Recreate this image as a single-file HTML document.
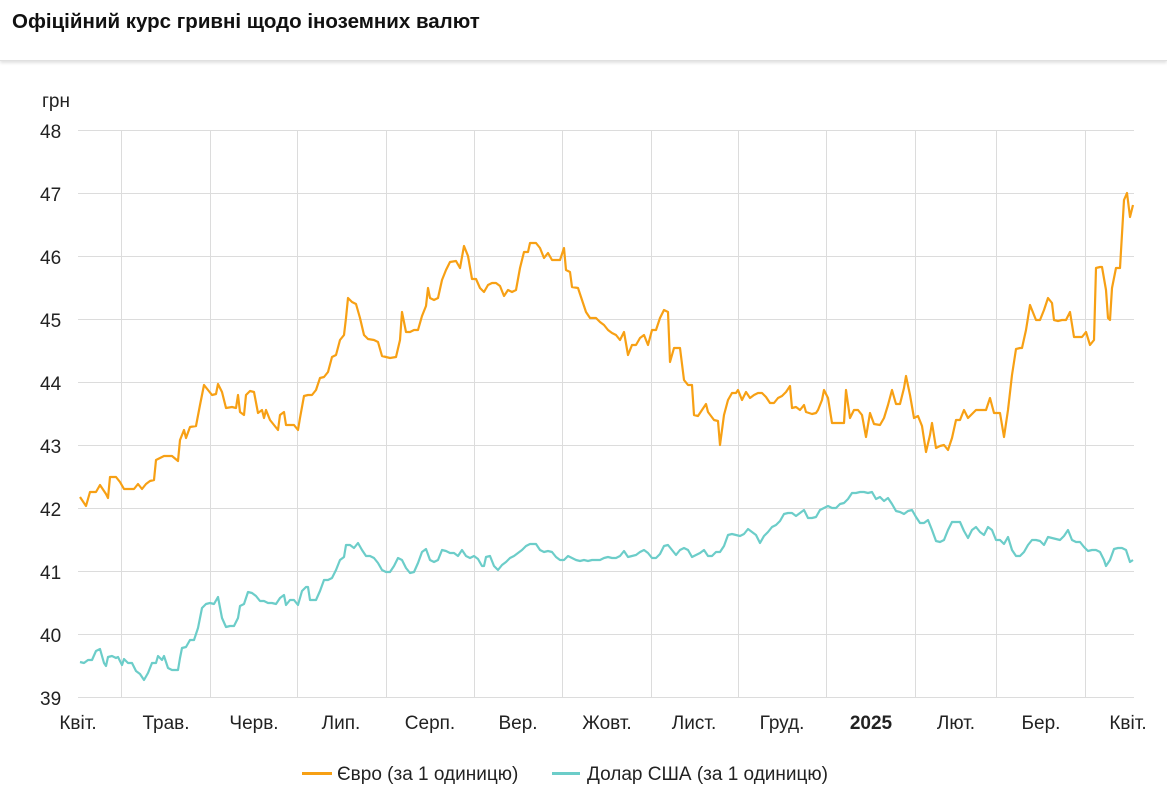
<!DOCTYPE html>
<html><head><meta charset="utf-8"><style>
body{margin:0;background:#fff;font-family:"Liberation Sans",sans-serif;}
.hdr{position:absolute;left:0;top:0;width:1167px;height:60px;border-bottom:1px solid #e0e0e0;box-shadow:0 2px 3px rgba(0,0,0,0.12);}
.hdr div{position:absolute;left:12px;top:10px;font-size:20.5px;font-weight:bold;color:#111;}
svg{position:absolute;left:0;top:0;}
</style></head><body>
<div class="hdr"><div>Офіційний курс гривні щодо іноземних валют</div></div>
<svg width="1167" height="798" font-family="Liberation Sans, sans-serif">
<g stroke="#dcdcdc" stroke-width="1">
<line x1="78" x2="1134" y1="130.5" y2="130.5"/><line x1="78" x2="1134" y1="193.5" y2="193.5"/><line x1="78" x2="1134" y1="256.5" y2="256.5"/><line x1="78" x2="1134" y1="319.5" y2="319.5"/><line x1="78" x2="1134" y1="382.5" y2="382.5"/><line x1="78" x2="1134" y1="445.5" y2="445.5"/><line x1="78" x2="1134" y1="508.5" y2="508.5"/><line x1="78" x2="1134" y1="571.5" y2="571.5"/><line x1="78" x2="1134" y1="634.5" y2="634.5"/><line x1="78" x2="1134" y1="697.5" y2="697.5"/>
<line x1="121.5" x2="121.5" y1="130" y2="697"/><line x1="210.5" x2="210.5" y1="130" y2="697"/><line x1="297.5" x2="297.5" y1="130" y2="697"/><line x1="386.5" x2="386.5" y1="130" y2="697"/><line x1="474.5" x2="474.5" y1="130" y2="697"/><line x1="562.5" x2="562.5" y1="130" y2="697"/><line x1="651.5" x2="651.5" y1="130" y2="697"/><line x1="738.5" x2="738.5" y1="130" y2="697"/><line x1="826.5" x2="826.5" y1="130" y2="697"/><line x1="915.5" x2="915.5" y1="130" y2="697"/><line x1="996.5" x2="996.5" y1="130" y2="697"/><line x1="1085.5" x2="1085.5" y1="130" y2="697"/>
</g>
<g font-size="19" fill="#222">
<text x="42" y="107">грн</text>
<text x="40" y="138">48</text><text x="40" y="201">47</text><text x="40" y="264">46</text><text x="40" y="327">45</text><text x="40" y="390">44</text><text x="40" y="453">43</text><text x="40" y="516">42</text><text x="40" y="579">41</text><text x="40" y="642">40</text><text x="40" y="705">39</text>
</g>
<g font-size="19" fill="#222" text-anchor="middle">
<text x="78" y="729">Квіт.</text><text x="166" y="729">Трав.</text><text x="254" y="729">Черв.</text><text x="341" y="729">Лип.</text><text x="430" y="729">Серп.</text><text x="518" y="729">Вер.</text><text x="607" y="729">Жовт.</text><text x="694" y="729">Лист.</text><text x="782" y="729">Груд.</text><text x="871" y="729" font-weight="bold">2025</text><text x="956" y="729">Лют.</text><text x="1041" y="729">Бер.</text><text x="1128" y="729">Квіт.</text>
</g>
<polyline fill="none" stroke="#f7a014" stroke-width="2.2" stroke-linejoin="round" points="80,497 86,506 90,492 96,492 100,485 106,494 108,498 110,477 116,477 120,482 124,489 128,489 134,489 138,484 142,489 146,484 150,481 154,480 156,460 160,458 164,456 172,456 178,461 180,440 184,430 186,438 190,427 196,426 200,405 204,385 208,390 212,395 216,394 218,384 222,392 226,408 232,407 236,408 238,395 240,412 244,415 246,395 250,391 254,392 258,413 262,410 264,418 266,410 270,420 274,425 278,430 280,415 284,412 286,425 290,425 294,425 298,430 300,418 304,396 308,395 312,395 316,390 320,378 324,377 328,372 332,357 336,355 340,340 344,335 346,318 348,298 352,302 356,304 360,318 364,335 368,339 374,340 378,342 382,356 386,357 390,358 396,357 400,340 402,312 406,332 410,332 414,330 418,330 422,316 426,306 428,288 430,298 434,300 438,298 442,280 446,270 450,262 456,261 460,268 464,246 468,256 472,279 476,279 480,288 484,292 488,285 492,283 496,283 500,286 504,296 508,290 512,292 516,290 520,268 524,252 528,252 530,243 536,243 540,248 544,258 548,253 552,260 556,260 560,260 564,248 566,270 570,272 572,287 578,288 582,300 586,312 590,318 596,318 600,322 604,325 608,330 612,333 616,335 620,340 624,332 628,355 632,345 636,345 640,338 644,335 648,345 652,330 656,330 660,318 664,310 668,312 670,362 674,348 680,348 684,380 688,385 692,385 694,415 698,416 702,410 706,404 708,412 714,420 718,421 720,445 724,415 728,400 732,393 736,393 738,390 742,400 746,392 750,398 754,395 758,393 762,393 766,397 770,403 774,403 778,398 782,396 786,392 790,386 792,408 796,407 800,410 804,405 806,412 812,414 816,413 818,410 822,400 824,390 828,398 832,423 838,423 844,423 846,390 850,418 854,410 858,410 862,415 866,437 870,413 874,424 880,425 884,418 888,405 892,390 896,404 900,404 904,388 906,376 910,395 914,418 918,416 922,426 926,452 930,435 932,423 936,448 940,446 944,445 948,450 952,438 956,420 960,420 964,410 968,418 972,414 976,410 982,410 986,410 990,398 994,413 1000,413 1002,425 1004,437 1008,410 1012,375 1016,349 1020,348 1022,348 1026,330 1030,305 1034,315 1036,320 1040,320 1044,310 1048,298 1052,303 1054,320 1058,321 1062,320 1066,320 1070,312 1074,337 1078,337 1082,337 1086,332 1090,345 1094,340 1096,268 1100,267 1102,267 1106,290 1108,318 1110,320 1112,288 1116,268 1120,268 1124,200 1127,193 1130,217 1133,205"/>
<polyline fill="none" stroke="#6ccdc9" stroke-width="2.2" stroke-linejoin="round" points="80,662 84,663 88,660 92,660 96,651 100,649 104,663 106,666 108,657 112,656 116,658 118,657 122,665 124,659 128,663 132,663 136,671 140,674 144,680 148,673 152,663 156,663 158,656 162,660 164,656 168,668 172,670 176,670 178,670 180,658 182,648 186,647 190,640 194,640 198,628 202,608 206,604 210,603 214,604 218,597 222,618 226,627 230,626 234,626 238,618 240,606 244,604 248,592 252,593 256,596 260,601 264,601 268,603 272,603 276,604 280,598 284,595 286,605 290,600 294,600 298,605 302,591 306,587 308,587 310,600 316,600 320,591 324,580 328,580 332,578 336,570 340,560 344,557 346,545 350,545 354,548 358,543 362,550 366,556 370,556 374,558 378,563 382,570 386,572 390,572 394,566 398,558 402,560 406,568 410,573 414,572 418,563 422,552 426,549 430,560 434,562 438,560 442,550 446,551 450,553 454,553 458,556 462,550 466,556 470,558 474,556 478,559 482,566 484,566 486,557 490,556 494,566 498,570 502,565 506,562 510,558 514,556 518,553 522,550 526,546 530,544 536,544 540,550 544,552 548,551 552,552 556,557 560,560 564,560 568,556 572,558 576,560 580,561 584,560 588,561 592,560 596,560 600,560 604,558 608,557 612,558 616,558 620,556 624,551 628,557 632,556 636,555 640,552 644,550 648,553 652,558 656,558 660,554 664,546 668,545 672,550 676,555 680,550 684,548 688,550 692,557 696,555 700,553 704,550 708,556 712,556 716,552 720,552 724,546 728,535 732,534 736,535 740,536 744,534 748,529 752,532 756,535 760,543 764,536 768,532 772,527 776,525 780,521 784,514 788,513 792,513 796,516 800,513 804,510 808,518 812,518 816,517 820,510 824,508 828,506 832,508 836,508 840,504 844,503 848,499 852,493 856,493 860,492 864,492 868,493 872,492 876,499 880,497 884,501 888,498 892,504 896,511 900,512 904,514 908,511 912,510 916,517 920,523 924,523 928,520 932,530 936,541 940,542 944,540 948,530 952,522 956,522 960,522 964,531 968,538 972,530 976,527 980,532 984,535 988,527 992,530 996,540 1000,540 1004,544 1008,537 1012,550 1016,556 1020,556 1024,552 1028,545 1032,540 1036,540 1040,541 1044,545 1048,537 1052,538 1056,539 1060,540 1064,536 1068,530 1072,540 1076,542 1080,542 1084,547 1088,551 1092,550 1096,550 1100,552 1104,560 1106,566 1110,560 1114,549 1118,548 1122,548 1126,550 1130,562 1133,560"/>
<line x1="302" x2="332" y1="773.5" y2="773.5" stroke="#f7a014" stroke-width="3"/>
<text x="337" y="780" font-size="19" fill="#222">Євро (за 1 одиницю)</text>
<line x1="552" x2="580" y1="773.5" y2="773.5" stroke="#6ccdc9" stroke-width="3"/>
<text x="587" y="780" font-size="19" fill="#222">Долар США (за 1 одиницю)</text>
</svg>
</body></html>
